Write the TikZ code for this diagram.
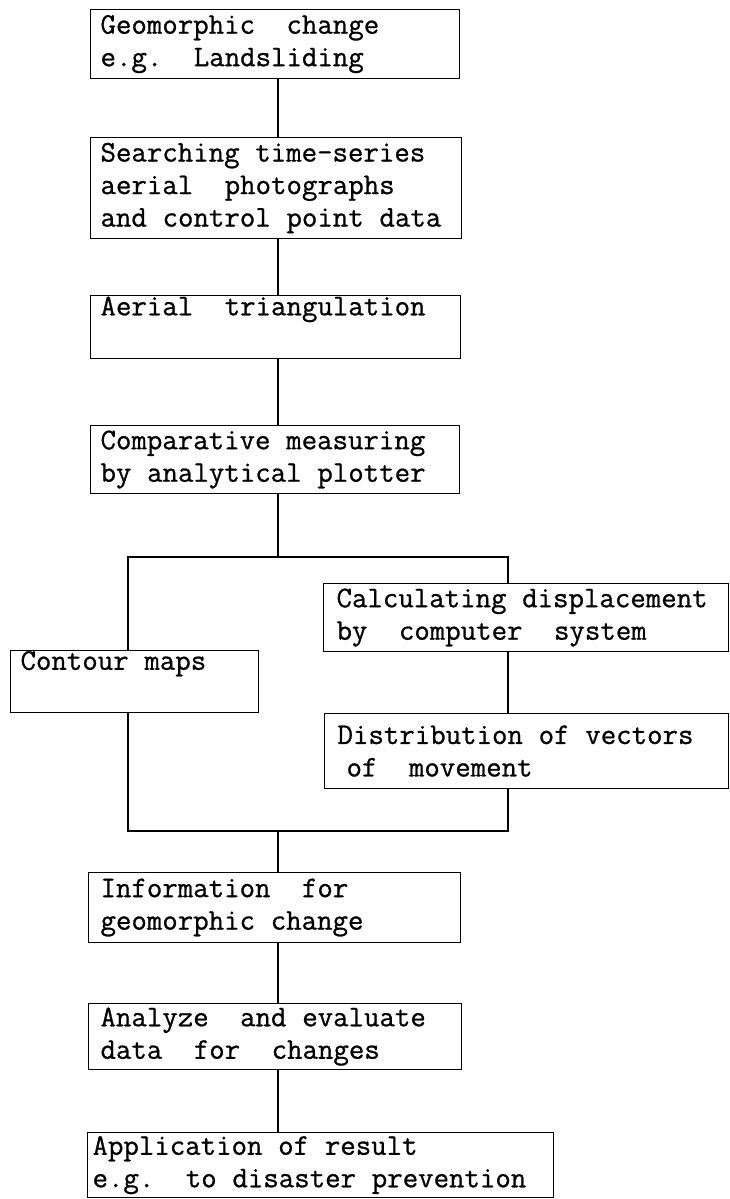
\documentclass[tikz,border=0pt]{standalone}
\usepackage{fontspec}
\newfontfamily\tw{Latin Modern Mono}[FakeBold=0.8]
\newcommand{\bxfont}{\tw\fontsize{30}{32.5}\selectfont}
\newcommand{\bxspace}{\spaceskip=0.525em\relax\xspaceskip=0.525em\relax\hyphenpenalty=10000\relax}
\begin{document}
\begin{tikzpicture}[x=1pt,y=1pt,
  line width=1.1pt,
  fbox/.style={draw, anchor=north west, inner ysep=0pt, align=left,
    font=\bxfont, execute at begin node=\bxspace},
  conn/.style={line width=1.1pt}]
\useasboundingbox (0,0) rectangle (730,-1199);
% boxes
\node[fbox, inner xsep=10pt, text width=349pt, minimum height=69pt] (b1) at (90,-9)
  {Geomorphic~~change\\e.g.~~Landsliding};
\node[fbox, inner xsep=10pt, text width=351pt, minimum height=101pt] (b2) at (90,-137)
  {Searching time-series\\aerial~~photographs\\and control point data};
\node[fbox, inner xsep=10pt, text width=350pt, minimum height=63pt] (b3) at (90,-295)
  {Aerial~~triangulation\\\strut};
\node[fbox, inner xsep=10pt, text width=349pt, minimum height=68pt] (b4) at (90,-425)
  {Comparative measuring\\by analytical plotter};
\node[fbox, inner xsep=10pt, text width=228pt, minimum height=62pt] (ct) at (10,-650)
  {Contour~maps\\\strut};
\node[fbox, inner xsep=13pt, text width=379pt, minimum height=68pt] (calc) at (323,-583)
  {Calculating displacement\\by~~computer~~system};
\node[fbox, inner xsep=13pt, text width=378pt, minimum height=75pt] (dist) at (324,-713)
  {Distribution of vectors\\\hspace*{0.3em}of~~movement};
\node[fbox, inner xsep=12pt, text width=348pt, minimum height=70pt] (info) at (88,-872)
  {Information~~for\\geomorphic change};
\node[fbox, inner xsep=12pt, text width=349pt, minimum height=66pt] (an) at (88,-1003)
  {Analyze~~and evaluate\\data~~for~~changes};
\node[fbox, inner xsep=5pt, text width=456pt, minimum height=65pt] (app) at (87,-1132)
  {Application of result\\e.g.~~to disaster prevention};
% junction coordinates
\coordinate (s) at (278,0);
\coordinate (tl) at (128,-557);
\coordinate (tr) at (508,-557);
\coordinate (bl) at (128,-831);
\coordinate (brt) at (508,-831);
% connectors
\draw[conn] (b1.south -| s) -- (b2.north -| s);
\draw[conn] (b2.south -| s) -- (b3.north -| s);
\draw[conn] (b3.south -| s) -- (b4.north -| s);
\draw[conn] (b4.south -| s) -- (s |- tl);
\draw[conn] (ct.north -| tl) -- (tl) -- (tr) -- (calc.north -| tr);
\draw[conn] (calc.south -| tr) -- (dist.north -| tr);
\draw[conn] (ct.south -| bl) -- (bl) -- (brt) -- (dist.south -| brt);
\draw[conn] (s |- bl) -- (info.north -| s);
\draw[conn] (info.south -| s) -- (an.north -| s);
\draw[conn] (an.south -| s) -- (app.north -| s);
\end{tikzpicture}
\end{document}
